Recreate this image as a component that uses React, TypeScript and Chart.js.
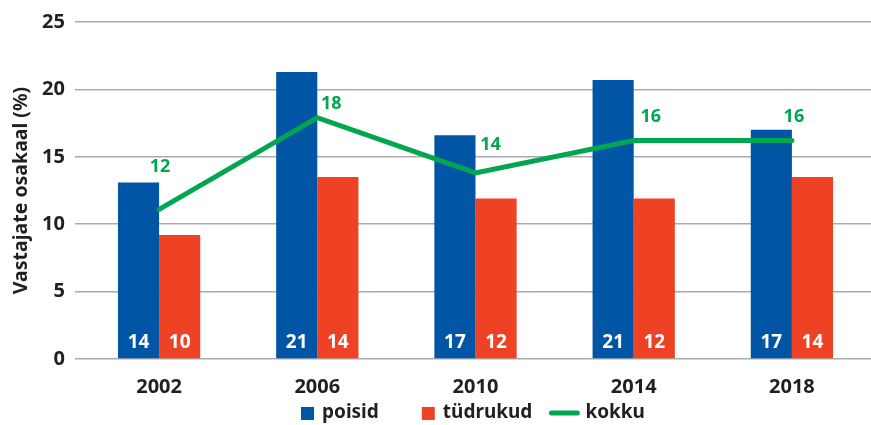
import React, { useEffect, useRef } from "react";
import { Chart, registerables } from "chart.js";

Chart.register(...registerables);

const categories = ["2002", "2006", "2010", "2014", "2018"];
const boysValues = [13.1, 21.3, 16.6, 20.7, 17.0];
const girlsValues = [9.2, 13.5, 11.9, 11.9, 13.5];
const totalValues = [11.1, 17.9, 13.8, 16.2, 16.2];
const boysLabels = ["14", "21", "17", "21", "17"];
const girlsLabels = ["10", "14", "12", "12", "14"];
const totalLabels = ["12", "18", "14", "16", "16"];
const yTicks = [0, 5, 10, 15, 20, 25];

const FONT = "'Noto Sans', sans-serif";
const TEXT = "#231f20";
const BLUE = "#0055a5";
const RED = "#ef4123";
const GREEN = "#00a650";

// label offsets (style only)
const lineLabelDx = [1, 14, 15, 17, 2];
const lineLabelDy = [-42, -14, -28, -24, -24];

const valueLabelPlugin = {
  id: "valueLabels",
  afterDatasetsDraw(chart: any) {
    const ctx = chart.ctx;
    ctx.save();
    ctx.textAlign = "center";
    ctx.textBaseline = "middle";
    [0, 1].forEach((di) => {
      const meta = chart.getDatasetMeta(di);
      const labels = di === 0 ? boysLabels : girlsLabels;
      ctx.font = `bold 19px ${FONT}`;
      ctx.fillStyle = "#ffffff";
      meta.data.forEach((el: any, i: number) => {
        ctx.fillText(labels[i], el.x, chart.scales.y.getPixelForValue(0) - 16);
      });
    });
    const lm = chart.getDatasetMeta(2);
    ctx.font = `bold 18px ${FONT}`;
    ctx.fillStyle = GREEN;
    lm.data.forEach((el: any, i: number) => {
      ctx.fillText(totalLabels[i], el.x + lineLabelDx[i], el.y + lineLabelDy[i]);
    });
    ctx.restore();
  },
};

const legendPlugin = {
  id: "customLegend",
  afterDraw(chart: any) {
    const ctx = chart.ctx;
    ctx.save();
    ctx.font = `bold 19px ${FONT}`;
    ctx.textBaseline = "middle";
    ctx.textAlign = "left";
    const y = 413;
    const items = chart.data.datasets.map((d: any) => ({
      text: d.label,
      color: d.type === "line" ? d.borderColor : d.backgroundColor,
      line: d.type === "line",
    }));
    const boxW = 13;
    const lineW = 30;
    let x = 301;
    items.forEach((it: any, i: number) => {
      if (it.line) {
        ctx.strokeStyle = it.color;
        ctx.lineWidth = 5;
        ctx.lineCap = "round";
        ctx.beginPath();
        ctx.moveTo(x + 2, y);
        ctx.lineTo(x + lineW - 2, y);
        ctx.stroke();
        x += lineW + 6;
      } else {
        ctx.fillStyle = it.color;
        ctx.fillRect(x, y - 6, boxW, boxW);
        x += boxW + 8;
      }
      ctx.fillStyle = TEXT;
      ctx.fillText(it.text, x, y);
      x += ctx.measureText(it.text).width + (i === 0 ? 43 : 17);
    });
    ctx.restore();
  },
};

export default function App() {
  const ref = useRef<HTMLCanvasElement>(null);
  useEffect(() => {
    if (!ref.current) return;
    const chart = new Chart(ref.current, {
      type: "bar",
      data: {
        labels: categories,
        datasets: [
          {
            type: "bar",
            label: "poisid",
            data: boysValues,
            backgroundColor: BLUE,
            order: 1,
            categoryPercentage: 0.52,
            barPercentage: 1.0,
          } as any,
          {
            type: "bar",
            label: "tüdrukud",
            data: girlsValues,
            backgroundColor: RED,
            order: 1,
            categoryPercentage: 0.52,
            barPercentage: 1.0,
          } as any,
          {
            type: "line",
            label: "kokku",
            data: totalValues,
            borderColor: GREEN,
            backgroundColor: GREEN,
            borderWidth: 5,
            borderCapStyle: "round",
            borderJoinStyle: "miter",
            pointRadius: 0,
            tension: 0,
            order: 0,
          } as any,
        ],
      },
      options: {
        animation: false,
        responsive: false,
        maintainAspectRatio: false,
        layout: { padding: { top: 21, right: -3, left: 0, bottom: 0 } },
        plugins: {
          legend: { display: false },
          tooltip: { enabled: false },
        },
        scales: {
          x: {
            grid: { display: false },
            border: { display: false },
            ticks: {
              color: TEXT,
              font: { family: FONT, size: 20, weight: "bold" },
              padding: 8,
            },
            afterFit: (s: any) => {
              s.height = 66;
            },
          },
          y: {
            min: 0,
            max: 25,
            afterBuildTicks: (s: any) => {
              s.ticks = yTicks.map((v) => ({ value: v }));
            },
            grid: {
              color: "#ababab",
              lineWidth: 1.5,
              drawTicks: true,
              tickLength: 5,
            },
            border: { display: false },
            ticks: {
              color: TEXT,
              font: { family: FONT, size: 20, weight: "bold" },
              padding: 10,
            },
            title: {
              display: true,
              text: "Vastajate osakaal (%)",
              color: TEXT,
              font: { family: FONT, size: 19.5, weight: "bold" },
              padding: { top: 10, bottom: 0 },
            },
            afterFit: (s: any) => {
              s.width = 80;
            },
          },
        },
      },
      plugins: [valueLabelPlugin, legendPlugin],
    });
    return () => chart.destroy();
  }, []);
  return (
    <div style={{ position: "fixed", left: 0, top: 0, width: 871, height: 425, background: "#fff" }}>
      <canvas ref={ref} width={871} height={425} style={{ display: "block" }} />
    </div>
  );
}
